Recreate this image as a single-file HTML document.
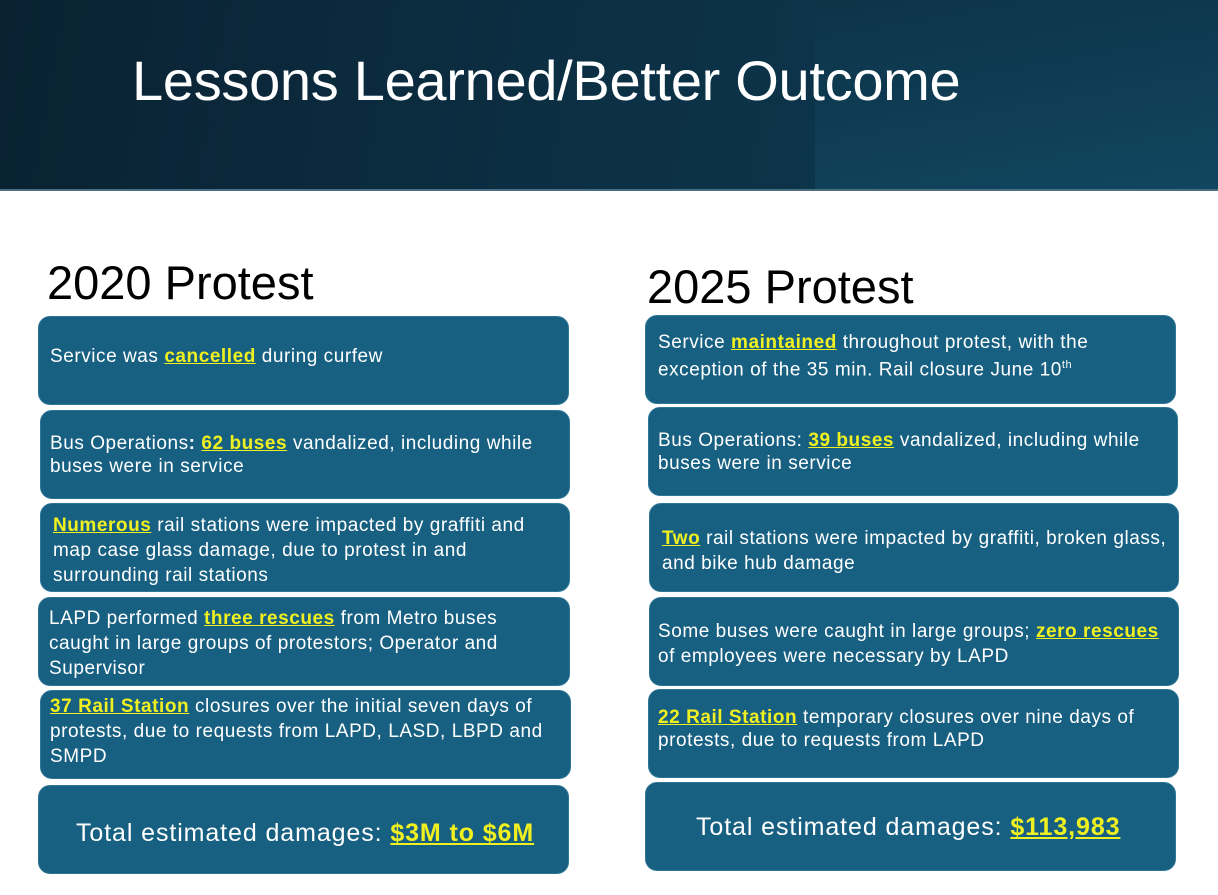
<!DOCTYPE html>
<html><head><style>
*{margin:0;padding:0;box-sizing:border-box}
body{width:1218px;height:895px;position:relative;background:#fff;font-family:"Liberation Sans",sans-serif;overflow:hidden}
.hdr{position:absolute;left:0;top:0;width:1218px;height:191px;background:linear-gradient(100deg,#0a2232 0%,#0c3146 55%,#0e3b53 100%);border-bottom:2px solid #4b6d82}
.hdr .lt{position:absolute;left:815px;top:0;width:403px;height:189px;background:linear-gradient(170deg,#0d3348 0%,#11465f 100%)}
.title{position:absolute;left:132px;top:48px;font-size:56px;color:#fff;white-space:nowrap;letter-spacing:-0.3px}
.h{position:absolute;font-size:47px;color:#000;white-space:nowrap}
.b{position:absolute;background:#176082;border-radius:12px;border:1px solid #2f7596}
.t{position:absolute;color:#fff;font-size:19px;white-space:nowrap;letter-spacing:0.55px}
.y{color:#f0f020;font-weight:bold;text-decoration:underline}
.big{font-size:25px;letter-spacing:0.9px}
sup{font-size:11px}
</style></head><body>
<div class="hdr"><div class="lt"></div></div>
<div class="title">Lessons Learned/Better Outcome</div>
<div class="h" style="left:47px;top:255px">2020 Protest</div>
<div class="h" style="left:647px;top:259px">2025 Protest</div>

<div class="b" style="left:38px;top:316px;width:531px;height:89px"></div>
<div class="b" style="left:40px;top:410px;width:530px;height:89px"></div>
<div class="b" style="left:40px;top:503px;width:530px;height:89px"></div>
<div class="b" style="left:38px;top:597px;width:532px;height:89px"></div>
<div class="b" style="left:40px;top:690px;width:531px;height:89px"></div>
<div class="b" style="left:38px;top:785px;width:531px;height:89px"></div>

<div class="b" style="left:645px;top:315px;width:531px;height:89px"></div>
<div class="b" style="left:648px;top:407px;width:530px;height:89px"></div>
<div class="b" style="left:649px;top:503px;width:530px;height:89px"></div>
<div class="b" style="left:649px;top:597px;width:530px;height:89px"></div>
<div class="b" style="left:648px;top:689px;width:531px;height:89px"></div>
<div class="b" style="left:645px;top:782px;width:531px;height:89px"></div>

<div class="t" style="left:50px;top:344px;line-height:25px">Service was <span class="y">cancelled</span> during curfew</div>
<div class="t" style="left:50px;top:432px;line-height:23px">Bus Operations<b>:</b> <span class="y">62 buses</span> vandalized, including while<br>buses were in service</div>
<div class="t" style="left:53px;top:513px;line-height:25px"><span class="y">Numerous</span> rail stations were impacted by graffiti and<br>map case glass damage, due to protest in and<br>surrounding rail stations</div>
<div class="t" style="left:49px;top:606px;line-height:25px">LAPD performed <span class="y">three rescues</span> from Metro buses<br>caught in large groups of protestors; Operator and<br>Supervisor</div>
<div class="t" style="left:50px;top:694px;line-height:25px"><span class="y">37 Rail Station</span> closures over the initial seven days of<br>protests, due to requests from LAPD, LASD, LBPD and<br>SMPD</div>
<div class="t big" style="left:76px;top:818px;line-height:30px">Total estimated damages: <span class="y">$3M to $6M</span></div>

<div class="t" style="left:658px;top:331px;line-height:23px">Service <span class="y">maintained</span> throughout protest, with the<br>exception of the 35 min. Rail closure June 10<sup>th</sup></div>
<div class="t" style="left:658px;top:429px;line-height:23px">Bus Operations: <span class="y">39 buses</span> vandalized, including while<br>buses were in service</div>
<div class="t" style="left:662px;top:526px;line-height:25px"><span class="y">Two</span> rail stations were impacted by graffiti, broken glass,<br>and bike hub damage</div>
<div class="t" style="left:658px;top:619px;line-height:25px">Some buses were caught in large groups; <span class="y">zero rescues</span><br>of employees were necessary by LAPD</div>
<div class="t" style="left:658px;top:706px;line-height:23px"><span class="y">22 Rail Station</span> temporary closures over nine days of<br>protests, due to requests from LAPD</div>
<div class="t big" style="left:696px;top:812px;line-height:30px">Total estimated damages: <span class="y">$113,983</span></div>
</body></html>
